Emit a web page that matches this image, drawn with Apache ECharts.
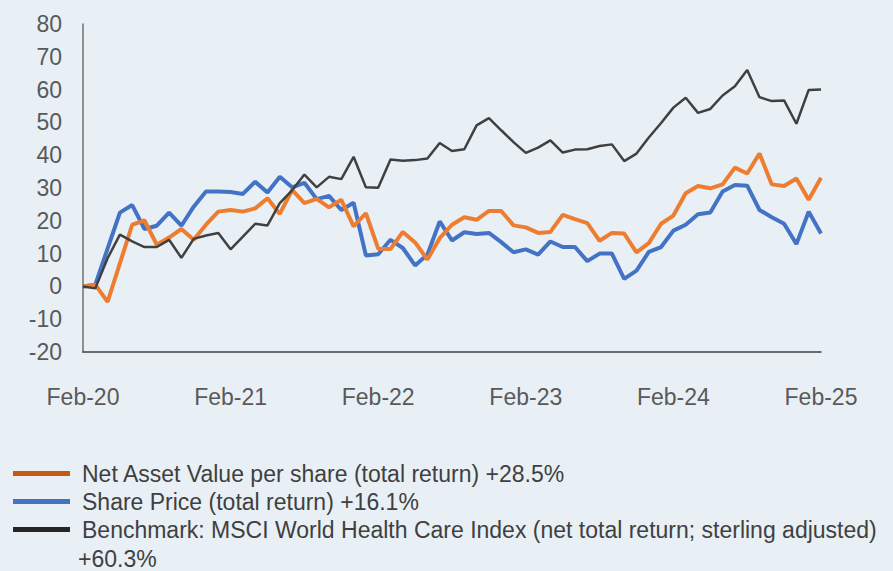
<!DOCTYPE html>
<html>
<head>
<meta charset="utf-8">
<script src="https://cdn.jsdelivr.net/npm/echarts@6/dist/echarts.min.js"></script>
<style>
html,body{margin:0;padding:0;background:#e8f0f6;}
#chart{width:893px;height:571px;}
</style>
</head>
<body>
<div id="chart"></div>
<script>
var months = [
  'Feb-20','Mar-20','Apr-20','May-20','Jun-20','Jul-20','Aug-20','Sep-20','Oct-20','Nov-20','Dec-20','Jan-21',
  'Feb-21','Mar-21','Apr-21','May-21','Jun-21','Jul-21','Aug-21','Sep-21','Oct-21','Nov-21','Dec-21','Jan-22',
  'Feb-22','Mar-22','Apr-22','May-22','Jun-22','Jul-22','Aug-22','Sep-22','Oct-22','Nov-22','Dec-22','Jan-23',
  'Feb-23','Mar-23','Apr-23','May-23','Jun-23','Jul-23','Aug-23','Sep-23','Oct-23','Nov-23','Dec-23','Jan-24',
  'Feb-24','Mar-24','Apr-24','May-24','Jun-24','Jul-24','Aug-24','Sep-24','Oct-24','Nov-24','Dec-24','Jan-25',
  'Feb-25'
];
var navName = 'Net Asset Value per share (total return) +28.5%';
var priceName = 'Share Price (total return) +16.1%';
var benchName = 'Benchmark: MSCI World Health Care Index (net total return; sterling adjusted)';
var benchSuffix = '+60.3%';

var navValues = [0, 0.5, -4.7, 7, 18.8, 20.1, 12.7, 14.9, 17.5, 14.2, 18.8, 22.8,
  23.3, 22.8, 23.8, 26.9, 22.1, 29.4, 25.4, 26.7, 24.1, 26.4, 18.3, 22.3,
  11.5, 11.4, 16.6, 13.4, 8.2, 14.7, 18.8, 21.1, 20.3, 23, 23, 18.6,
  18, 16.3, 16.6, 21.8, 20.5, 19.3, 13.9, 16.3, 16.1, 10.4, 13.2, 19.1,
  21.6, 28.4, 30.6, 29.9, 31.1, 36.2, 34.4, 40.5, 31.1, 30.6, 32.9, 26.4,
  33.1];
var priceValues = [0, 0.5, 11.5, 22.5, 24.8, 17.5, 18.5, 22.5, 18.5, 24.3, 28.9, 28.9,
  28.8, 28.2, 31.9, 28.6, 33.4, 30.2, 31.6, 26.6, 27.6, 23.3, 25.5, 9.4,
  9.8, 14.2, 11.7, 6.4, 9.7, 19.8, 14, 16.5, 16, 16.3, 13.5, 10.4,
  11.3, 9.7, 13.7, 12, 12, 7.7, 10, 10, 2.3, 4.8, 10.5, 12,
  17, 18.8, 22, 22.5, 28.9, 30.9, 30.7, 23.3, 21.1, 19.1, 12.9, 22.8,
  16.1];
var benchValues = [0, -0.6, 8.6, 15.8, 13.7, 12, 12, 14.2, 8.7, 14.5, 15.5, 16.3,
  11.3, 15.2, 19.1, 18.6, 25.4, 29.3, 34.1, 30.2, 33.4, 32.7, 39.5, 30.2,
  30.1, 38.7, 38.3, 38.5, 39, 43.7, 41.3, 41.8, 49.1, 51.3, 47.6, 44,
  40.7, 42.3, 44.5, 40.8, 41.7, 41.8, 42.8, 43.3, 38.2, 40.5, 45.4, 49.8,
  54.5, 57.5, 52.9, 54.1, 58.2, 61, 66, 57.7, 56.5, 56.7, 49.6, 59.9,
  60];

var FONT = '"Liberation Sans", Arial, sans-serif';
var chart = echarts.init(document.getElementById('chart'), null, {renderer: 'svg'});
chart.setOption({
  backgroundColor: '#e8f0f6',
  animation: false,
  textStyle: {fontFamily: FONT},
  grid: {left: 83, right: 72, top: 24, bottom: 219, containLabel: false},
  legend: {
    orient: 'vertical',
    left: 13,
    top: 462,
    padding: 0,
    itemWidth: 57,
    itemHeight: 5,
    itemGap: 5,
    icon: 'rect',
    textStyle: {fontFamily: FONT, fontSize: 23, color: '#404040', padding: [0, 0, 0, 7]},
    data: [
      {name: navName, itemStyle: {color: '#c55a11'}},
      {name: priceName, itemStyle: {color: '#4472c4'}},
      {name: benchName, itemStyle: {color: '#262626'}}
    ]
  },
  graphic: [{
    type: 'text',
    left: 78,
    top: 547,
    style: {text: benchSuffix, font: '23px ' + FONT, fill: '#404040'}
  }],
  xAxis: {
    type: 'category',
    data: months,
    boundaryGap: false,
    axisLine: {show: true, onZero: false, lineStyle: {color: '#404040', width: 1.5}},
    axisTick: {show: false},
    axisLabel: {interval: 11, margin: 33, fontSize: 23, color: '#595959', fontFamily: FONT},
    splitLine: {show: false}
  },
  yAxis: {
    type: 'value',
    min: -20,
    max: 80,
    interval: 10,
    axisLine: {show: true, lineStyle: {color: '#6f6f6f', width: 1.5}},
    axisTick: {show: false},
    axisLabel: {margin: 21, fontSize: 23, color: '#595959', fontFamily: FONT},
    splitLine: {show: false}
  },
  series: [
    {name: priceName, type: 'line', data: priceValues, showSymbol: false, symbol: 'none',
      lineStyle: {color: '#4472c4', width: 4}, itemStyle: {color: '#4472c4'}},
    {name: navName, type: 'line', data: navValues, showSymbol: false, symbol: 'none',
      lineStyle: {color: '#ed7d31', width: 4}, itemStyle: {color: '#ed7d31'}},
    {name: benchName, type: 'line', data: benchValues, showSymbol: false, symbol: 'none',
      lineStyle: {color: '#404040', width: 2.5}, itemStyle: {color: '#404040'}}
  ]
});
</script>
</body>
</html>
